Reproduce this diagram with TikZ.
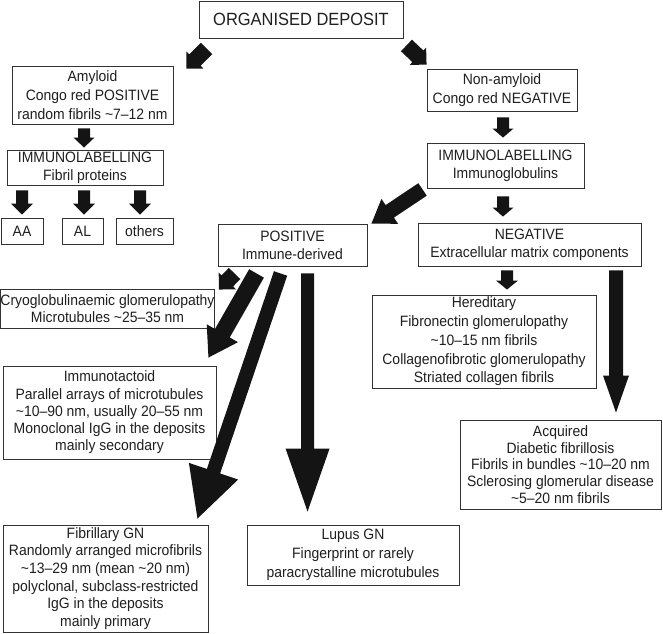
\documentclass[tikz,border=0pt]{standalone}
\usepackage{fontspec}
\setmainfont{Liberation Sans}[FakeStretch=0.93]
\usetikzlibrary{calc}
\tikzset{
  box/.style={draw=black!80, line width=0.9pt, fill=white, align=center, inner sep=0pt,
    text=black!88, font=\fontsize{15}{18.3}\selectfont},
  arr/.style={fill=black!92},
}
\newcommand\lead[1]{\fontsize{15}{#1}\selectfont}
% block arrow: start, tip, shaft half width, head half width, head length
\newcommand\blockarrow[5]{%
  \coordinate (ba-m) at ($(#2)!#5!(#1)$);
  \fill[arr] ($(#1)!#3!90:(#2)$) -- ($(ba-m)!#3!90:(#2)$) -- ($(ba-m)!#4!90:(#2)$) -- (#2)
    -- ($(ba-m)!#4!-90:(#2)$) -- ($(ba-m)!#3!-90:(#2)$) -- ($(#1)!#3!-90:(#2)$) -- cycle;}
\begin{document}
\begin{tikzpicture}[x=1pt,y=-1pt]
\useasboundingbox (0,0) rectangle (663,633);
% nodes
\node[box, minimum width=204pt, minimum height=37pt, font=\fontsize{17.7}{20}\selectfont] (org) at (301,19.5) {ORGANISED DEPOSIT};
\node[box, minimum width=161pt, minimum height=58pt, font=\lead{19}] (amy) at (92.5,95) {Amyloid\\Congo red POSITIVE\\random fibrils \textasciitilde7–12 nm};
\node[box, minimum width=150pt, minimum height=42pt, font=\lead{19}] (non) at (502,90) {Non-amyloid\\Congo red NEGATIVE};
\node[box, minimum width=156pt, minimum height=35pt] (imf) at (85,167.5) {IMMUNOLABELLING\\Fibril proteins};
\node[box, minimum width=42pt, minimum height=26pt] (aa) at (22,231) {AA};
\node[box, minimum width=41pt, minimum height=26pt] (al) at (82.5,231) {AL};
\node[box, minimum width=57pt, minimum height=26pt] (oth) at (144.5,231) {others};
\node[box, minimum width=157pt, minimum height=45pt] (imi) at (505.5,165.5) {IMMUNOLABELLING\\Immunoglobulins};
\node[box, minimum width=149pt, minimum height=42pt] (pos) at (292.5,245) {POSITIVE\\Immune-derived};
\node[box, minimum width=223pt, minimum height=43pt] (neg) at (529.5,244.5) {NEGATIVE\\Extracellular matrix components};
\node[box, minimum width=212pt, minimum height=39pt, font=\lead{17.7}] (cryo) at (107.5,308.5) {Cryoglobulinaemic glomerulopathy\\Microtubules \textasciitilde25–35 nm};
\node[box, minimum width=224pt, minimum height=93pt, font=\lead{18.7}] (her) at (484,341.5) {Hereditary\\Fibronectin glomerulopathy\\\textasciitilde10–15 nm fibrils\\Collagenofibrotic glomerulopathy\\Striated collagen fibrils};
\node[box, minimum width=213pt, minimum height=93pt, font=\lead{17.3}] (imt) at (109.5,412.5) {Immunotactoid\\Parallel arrays of microtubules\\\textasciitilde10–90 nm, usually 20–55 nm\\Monoclonal IgG in the deposits\\mainly secondary};
\node[box, minimum width=201pt, minimum height=89pt, font=\lead{16.7}] (acq) at (560.5,464.5) {Acquired\\Diabetic fibrillosis\\Fibrils in bundles \textasciitilde10–20 nm\\Sclerosing glomerular disease\\\textasciitilde5–20 nm fibrils};
\node[box, minimum width=205pt, minimum height=107pt, font=\lead{17.7}] (fib) at (105.5,578.5) {Fibrillary GN\\Randomly arranged microfibrils\\\textasciitilde13–29 nm (mean \textasciitilde20 nm)\\polyclonal, subclass-restricted\\IgG in the deposits\\mainly primary};
\node[box, minimum width=212pt, minimum height=60pt, font=\lead{18.7}] (lup) at (353,555) {Lupus GN\\Fingerprint or rarely\\paracrystalline microtubules};
% arrow end points
\coordinate (a1s) at ($(org.south west)+(8,10)$);
\coordinate (a1t) at ($(amy.north east)+(13,3)$);
\coordinate (a2s) at ($(org.south east)+(3,7)$);
\coordinate (a2t) at ($(non.north west)+(0,-4)$);
\coordinate (a3s) at ($(amy.south)+(-8.5,4)$);
\coordinate (a3t) at ($(imf.north)+(-1,-2)$);
\coordinate (a4s) at ($(imf.south)+(-63,5)$);
\coordinate (a4t) at ($(aa.north)+(0,-3)$);
\coordinate (a5s) at ($(imf.south)+(-1,5)$);
\coordinate (a5t) at ($(al.north)+(1.5,-3)$);
\coordinate (a6s) at ($(imf.south)+(55,5)$);
\coordinate (a6t) at ($(oth.north)+(-4.5,-3)$);
\coordinate (a7s) at ($(non.south)+(1,6)$);
\coordinate (a7t) at ($(imi.north)+(-2.5,-5)$);
\coordinate (a8s) at ($(imi.south)+(-2.5,8)$);
\coordinate (a8t) at ($(neg.north)+(-26.5,-6)$);
\coordinate (a9s) at ($(imi.south west)+(-4,1)$);
\coordinate (a9t) at ($(pos.north east)+(4,0)$);
\coordinate (b1s) at ($(neg.south)+(-22.5,4)$);
\coordinate (b1t) at ($(her.north)+(23,-5)$);
\coordinate (b2s) at ($(neg.south)+(86.5,4)$);
\coordinate (b2t) at ($(acq.north)+(55.5,-7)$);
\coordinate (c1s) at ($(pos.south west)+(17,7)$);
\coordinate (c1t) at ($(cryo.north east)+(4,1)$);
\coordinate (c2s) at ($(pos.south west)+(39,7)$);
\coordinate (c2t) at ($(imt.north east)+(-8,-8)$);
\coordinate (c3s) at ($(pos.south west)+(63,7)$);
\coordinate (c3t) at ($(fib.north east)+(-11,-6)$);
\coordinate (c4s) at ($(pos.south west)+(90,7)$);
\coordinate (c4t) at ($(lup.north west)+(61,-13)$);
% arrows
\blockarrow{a1s}{a1t}{8pt}{12pt}{12pt}
\blockarrow{a2s}{a2t}{8pt}{12pt}{12pt}
\blockarrow{a3s}{a3t}{6pt}{10.5pt}{10pt}
\blockarrow{a4s}{a4t}{6pt}{11pt}{11pt}
\blockarrow{a5s}{a5t}{6pt}{11pt}{11pt}
\blockarrow{a6s}{a6t}{6pt}{11pt}{11pt}
\blockarrow{a7s}{a7t}{6pt}{10.5pt}{9pt}
\blockarrow{a8s}{a8t}{6pt}{10.5pt}{9pt}
\blockarrow{a9s}{a9t}{7.5pt}{15pt}{22pt}
\blockarrow{b1s}{b1t}{6pt}{11pt}{9pt}
\blockarrow{b2s}{b2t}{7pt}{13pt}{37pt}
\blockarrow{c1s}{c1t}{8pt}{12pt}{12pt}
\blockarrow{c2s}{c2t}{8.5pt}{18pt}{28pt}
\blockarrow{c3s}{c3t}{7pt}{26pt}{50pt}
\blockarrow{c4s}{c4t}{6.5pt}{22pt}{63pt}
\end{tikzpicture}
\end{document}
